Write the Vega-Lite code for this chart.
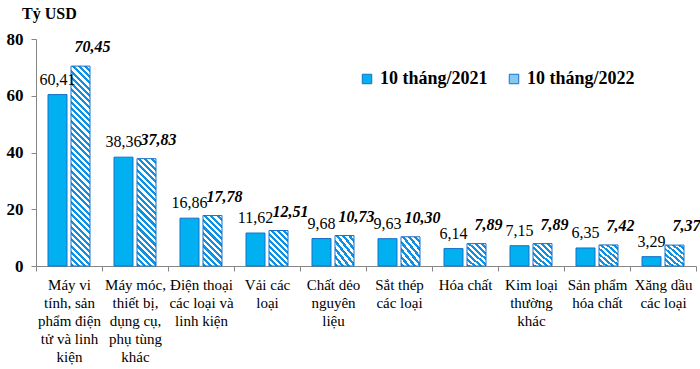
{
  "$schema": "https://vega.github.io/schema/vega-lite/v6.json",
  "width": 660,
  "height": 227,
  "autosize": {"type": "none"},
  "padding": {"left": 36, "top": 39, "right": 4, "bottom": 103},
  "config": {
    "view": {"stroke": null},
    "font": "Liberation Serif",
    "locale": {"number": {"decimal": ",", "thousands": ".", "grouping": [3], "currency": ["", "đ"]}}
  },
  "title": {"text": "Tỷ USD", "anchor": "start", "frame": "group", "dx": -14, "offset": 8, "fontSize": 16, "fontWeight": "bold", "font": "Liberation Serif", "color": "#000000"},
  "data": {"values": [
    {"cat": "Máy vi\ntính, sản\nphẩm điện\ntử và linh\nkiện", "series": "10 tháng/2021", "value": 60.41},
    {"cat": "Máy vi\ntính, sản\nphẩm điện\ntử và linh\nkiện", "series": "10 tháng/2022", "value": 70.45},
    {"cat": "Máy móc,\nthiết bị,\ndụng cụ,\nphụ tùng\nkhác", "series": "10 tháng/2021", "value": 38.36},
    {"cat": "Máy móc,\nthiết bị,\ndụng cụ,\nphụ tùng\nkhác", "series": "10 tháng/2022", "value": 37.83},
    {"cat": "Điện thoại\ncác loại và\nlinh kiện", "series": "10 tháng/2021", "value": 16.86},
    {"cat": "Điện thoại\ncác loại và\nlinh kiện", "series": "10 tháng/2022", "value": 17.78},
    {"cat": "Vải các\nloại", "series": "10 tháng/2021", "value": 11.62},
    {"cat": "Vải các\nloại", "series": "10 tháng/2022", "value": 12.51},
    {"cat": "Chất dẻo\nnguyên\nliệu", "series": "10 tháng/2021", "value": 9.68},
    {"cat": "Chất dẻo\nnguyên\nliệu", "series": "10 tháng/2022", "value": 10.73},
    {"cat": "Sắt thép\ncác loại", "series": "10 tháng/2021", "value": 9.63},
    {"cat": "Sắt thép\ncác loại", "series": "10 tháng/2022", "value": 10.30},
    {"cat": "Hóa chất", "series": "10 tháng/2021", "value": 6.14},
    {"cat": "Hóa chất", "series": "10 tháng/2022", "value": 7.89},
    {"cat": "Kim loại\nthường\nkhác", "series": "10 tháng/2021", "value": 7.15},
    {"cat": "Kim loại\nthường\nkhác", "series": "10 tháng/2022", "value": 7.89},
    {"cat": "Sản phẩm\nhóa chất", "series": "10 tháng/2021", "value": 6.35},
    {"cat": "Sản phẩm\nhóa chất", "series": "10 tháng/2022", "value": 7.42},
    {"cat": "Xăng dầu\ncác loại", "series": "10 tháng/2021", "value": 3.29},
    {"cat": "Xăng dầu\ncác loại", "series": "10 tháng/2022", "value": 7.37}
  ]},
  "encoding": {
    "x": {
      "field": "cat", "type": "nominal", "sort": null,
      "scale": {"paddingInner": 0, "paddingOuter": 0},
      "axis": {
        "title": null, "labelAngle": 0, "labelExpr": "datum.value ? split(datum.value, '\\n') : ''",
        "tickBand": "extent", "tickSize": 5, "domainColor": "#868686", "tickColor": "#868686",
        "labelFontSize": 15, "labelLineHeight": 18, "labelColor": "#000000", "labelPadding": 6,
        "labelFont": "Liberation Serif", "labelLimit": 0, "labelBaseline": "top"
      }
    },
    "xOffset": {"field": "series", "type": "nominal", "scale": {"domain": ["10 tháng/2021", "10 tháng/2022"], "paddingInner": 0.174, "paddingOuter": 0.522}},
    "y": {
      "field": "value", "type": "quantitative",
      "scale": {"domain": [0, 80]},
      "axis": {
        "title": null, "values": [0, 20, 40, 60, 80], "grid": false,
        "domainColor": "#868686", "tickColor": "#868686", "tickSize": 5,
        "labelFontSize": 17, "labelFontWeight": "bold", "labelColor": "#000000",
        "labelPadding": 8, "labelFont": "Liberation Serif"
      }
    }
  },
  "layer": [
    {
      "transform": [{"filter": "datum.series == '10 tháng/2021'"}],
      "mark": {"type": "bar", "stroke": "#1670c8", "strokeWidth": 1},
      "encoding": {
        "color": {
          "field": "series", "type": "nominal",
          "scale": {"domain": ["10 tháng/2021", "10 tháng/2022"], "range": ["#00b0f0", "#86c8f2"]},
          "legend": {
            "title": null, "orient": "none", "legendX": 322, "legendY": 31,
            "direction": "horizontal", "symbolType": "square", "symbolSize": 90,
            "labelFontSize": 18, "labelFontWeight": "bold", "labelFont": "Liberation Serif",
            "labelColor": "#000000", "columnPadding": 17, "labelOffset": 4,
            "symbolStrokeColor": "#1670c8", "symbolStrokeWidth": 1, "labelLimit": 0
          }
        }
      }
    },
    {
      "transform": [{"filter": "datum.series == '10 tháng/2022'"}],
      "mark": {"type": "bar", "stroke": "#1670c8", "strokeWidth": 1},
      "encoding": {
        "fill": {
          "condition": [
            {"test": "indexof(datum.cat, 'Máy vi') === 0", "value": {"gradient": "linear", "x1": 0, "y1": 1, "x2": 0.1031, "y2": -0.0848, "stops": [
              {"offset":0,"color":"#1090e0"},{"offset":0.0143,"color":"#1090e0"},{"offset":0.0143,"color":"#fff"},{"offset":0.0286,"color":"#fff"},
              {"offset":0.0286,"color":"#1090e0"},{"offset":0.0429,"color":"#1090e0"},{"offset":0.0429,"color":"#fff"},{"offset":0.0571,"color":"#fff"},
              {"offset":0.0571,"color":"#1090e0"},{"offset":0.0714,"color":"#1090e0"},{"offset":0.0714,"color":"#fff"},{"offset":0.0857,"color":"#fff"},
              {"offset":0.0857,"color":"#1090e0"},{"offset":0.1,"color":"#1090e0"},{"offset":0.1,"color":"#fff"},{"offset":0.1143,"color":"#fff"},
              {"offset":0.1143,"color":"#1090e0"},{"offset":0.1286,"color":"#1090e0"},{"offset":0.1286,"color":"#fff"},{"offset":0.1429,"color":"#fff"},
              {"offset":0.1429,"color":"#1090e0"},{"offset":0.1571,"color":"#1090e0"},{"offset":0.1571,"color":"#fff"},{"offset":0.1714,"color":"#fff"},
              {"offset":0.1714,"color":"#1090e0"},{"offset":0.1857,"color":"#1090e0"},{"offset":0.1857,"color":"#fff"},{"offset":0.2,"color":"#fff"},
              {"offset":0.2,"color":"#1090e0"},{"offset":0.2143,"color":"#1090e0"},{"offset":0.2143,"color":"#fff"},{"offset":0.2286,"color":"#fff"},
              {"offset":0.2286,"color":"#1090e0"},{"offset":0.2429,"color":"#1090e0"},{"offset":0.2429,"color":"#fff"},{"offset":0.2571,"color":"#fff"},
              {"offset":0.2571,"color":"#1090e0"},{"offset":0.2714,"color":"#1090e0"},{"offset":0.2714,"color":"#fff"},{"offset":0.2857,"color":"#fff"},
              {"offset":0.2857,"color":"#1090e0"},{"offset":0.3,"color":"#1090e0"},{"offset":0.3,"color":"#fff"},{"offset":0.3143,"color":"#fff"},
              {"offset":0.3143,"color":"#1090e0"},{"offset":0.3286,"color":"#1090e0"},{"offset":0.3286,"color":"#fff"},{"offset":0.3429,"color":"#fff"},
              {"offset":0.3429,"color":"#1090e0"},{"offset":0.3571,"color":"#1090e0"},{"offset":0.3571,"color":"#fff"},{"offset":0.3714,"color":"#fff"},
              {"offset":0.3714,"color":"#1090e0"},{"offset":0.3857,"color":"#1090e0"},{"offset":0.3857,"color":"#fff"},{"offset":0.4,"color":"#fff"},
              {"offset":0.4,"color":"#1090e0"},{"offset":0.4143,"color":"#1090e0"},{"offset":0.4143,"color":"#fff"},{"offset":0.4286,"color":"#fff"},
              {"offset":0.4286,"color":"#1090e0"},{"offset":0.4429,"color":"#1090e0"},{"offset":0.4429,"color":"#fff"},{"offset":0.4571,"color":"#fff"},
              {"offset":0.4571,"color":"#1090e0"},{"offset":0.4714,"color":"#1090e0"},{"offset":0.4714,"color":"#fff"},{"offset":0.4857,"color":"#fff"},
              {"offset":0.4857,"color":"#1090e0"},{"offset":0.5,"color":"#1090e0"},{"offset":0.5,"color":"#fff"},{"offset":0.5143,"color":"#fff"},
              {"offset":0.5143,"color":"#1090e0"},{"offset":0.5286,"color":"#1090e0"},{"offset":0.5286,"color":"#fff"},{"offset":0.5429,"color":"#fff"},
              {"offset":0.5429,"color":"#1090e0"},{"offset":0.5571,"color":"#1090e0"},{"offset":0.5571,"color":"#fff"},{"offset":0.5714,"color":"#fff"},
              {"offset":0.5714,"color":"#1090e0"},{"offset":0.5857,"color":"#1090e0"},{"offset":0.5857,"color":"#fff"},{"offset":0.6,"color":"#fff"},
              {"offset":0.6,"color":"#1090e0"},{"offset":0.6143,"color":"#1090e0"},{"offset":0.6143,"color":"#fff"},{"offset":0.6286,"color":"#fff"},
              {"offset":0.6286,"color":"#1090e0"},{"offset":0.6429,"color":"#1090e0"},{"offset":0.6429,"color":"#fff"},{"offset":0.6571,"color":"#fff"},
              {"offset":0.6571,"color":"#1090e0"},{"offset":0.6714,"color":"#1090e0"},{"offset":0.6714,"color":"#fff"},{"offset":0.6857,"color":"#fff"},
              {"offset":0.6857,"color":"#1090e0"},{"offset":0.7,"color":"#1090e0"},{"offset":0.7,"color":"#fff"},{"offset":0.7143,"color":"#fff"},
              {"offset":0.7143,"color":"#1090e0"},{"offset":0.7286,"color":"#1090e0"},{"offset":0.7286,"color":"#fff"},{"offset":0.7429,"color":"#fff"},
              {"offset":0.7429,"color":"#1090e0"},{"offset":0.7571,"color":"#1090e0"},{"offset":0.7571,"color":"#fff"},{"offset":0.7714,"color":"#fff"},
              {"offset":0.7714,"color":"#1090e0"},{"offset":0.7857,"color":"#1090e0"},{"offset":0.7857,"color":"#fff"},{"offset":0.8,"color":"#fff"},
              {"offset":0.8,"color":"#1090e0"},{"offset":0.8143,"color":"#1090e0"},{"offset":0.8143,"color":"#fff"},{"offset":0.8286,"color":"#fff"},
              {"offset":0.8286,"color":"#1090e0"},{"offset":0.8429,"color":"#1090e0"},{"offset":0.8429,"color":"#fff"},{"offset":0.8571,"color":"#fff"},
              {"offset":0.8571,"color":"#1090e0"},{"offset":0.8714,"color":"#1090e0"},{"offset":0.8714,"color":"#fff"},{"offset":0.8857,"color":"#fff"},
              {"offset":0.8857,"color":"#1090e0"},{"offset":0.9,"color":"#1090e0"},{"offset":0.9,"color":"#fff"},{"offset":0.9143,"color":"#fff"},
              {"offset":0.9143,"color":"#1090e0"},{"offset":0.9286,"color":"#1090e0"},{"offset":0.9286,"color":"#fff"},{"offset":0.9429,"color":"#fff"},
              {"offset":0.9429,"color":"#1090e0"},{"offset":0.9571,"color":"#1090e0"},{"offset":0.9571,"color":"#fff"},{"offset":0.9714,"color":"#fff"},
              {"offset":0.9714,"color":"#1090e0"},{"offset":0.9857,"color":"#1090e0"},{"offset":0.9857,"color":"#fff"},{"offset":1,"color":"#fff"}
            ]}},
            {"test": "indexof(datum.cat, 'Máy móc') === 0", "value": {"gradient": "linear", "x1": 0, "y1": 1, "x2": 0.2021, "y2": -0.1414, "stops": [
              {"offset":0,"color":"#1090e0"},{"offset":0.025,"color":"#1090e0"},{"offset":0.025,"color":"#fff"},{"offset":0.05,"color":"#fff"},
              {"offset":0.05,"color":"#1090e0"},{"offset":0.075,"color":"#1090e0"},{"offset":0.075,"color":"#fff"},{"offset":0.1,"color":"#fff"},
              {"offset":0.1,"color":"#1090e0"},{"offset":0.125,"color":"#1090e0"},{"offset":0.125,"color":"#fff"},{"offset":0.15,"color":"#fff"},
              {"offset":0.15,"color":"#1090e0"},{"offset":0.175,"color":"#1090e0"},{"offset":0.175,"color":"#fff"},{"offset":0.2,"color":"#fff"},
              {"offset":0.2,"color":"#1090e0"},{"offset":0.225,"color":"#1090e0"},{"offset":0.225,"color":"#fff"},{"offset":0.25,"color":"#fff"},
              {"offset":0.25,"color":"#1090e0"},{"offset":0.275,"color":"#1090e0"},{"offset":0.275,"color":"#fff"},{"offset":0.3,"color":"#fff"},
              {"offset":0.3,"color":"#1090e0"},{"offset":0.325,"color":"#1090e0"},{"offset":0.325,"color":"#fff"},{"offset":0.35,"color":"#fff"},
              {"offset":0.35,"color":"#1090e0"},{"offset":0.375,"color":"#1090e0"},{"offset":0.375,"color":"#fff"},{"offset":0.4,"color":"#fff"},
              {"offset":0.4,"color":"#1090e0"},{"offset":0.425,"color":"#1090e0"},{"offset":0.425,"color":"#fff"},{"offset":0.45,"color":"#fff"},
              {"offset":0.45,"color":"#1090e0"},{"offset":0.475,"color":"#1090e0"},{"offset":0.475,"color":"#fff"},{"offset":0.5,"color":"#fff"},
              {"offset":0.5,"color":"#1090e0"},{"offset":0.525,"color":"#1090e0"},{"offset":0.525,"color":"#fff"},{"offset":0.55,"color":"#fff"},
              {"offset":0.55,"color":"#1090e0"},{"offset":0.575,"color":"#1090e0"},{"offset":0.575,"color":"#fff"},{"offset":0.6,"color":"#fff"},
              {"offset":0.6,"color":"#1090e0"},{"offset":0.625,"color":"#1090e0"},{"offset":0.625,"color":"#fff"},{"offset":0.65,"color":"#fff"},
              {"offset":0.65,"color":"#1090e0"},{"offset":0.675,"color":"#1090e0"},{"offset":0.675,"color":"#fff"},{"offset":0.7,"color":"#fff"},
              {"offset":0.7,"color":"#1090e0"},{"offset":0.725,"color":"#1090e0"},{"offset":0.725,"color":"#fff"},{"offset":0.75,"color":"#fff"},
              {"offset":0.75,"color":"#1090e0"},{"offset":0.775,"color":"#1090e0"},{"offset":0.775,"color":"#fff"},{"offset":0.8,"color":"#fff"},
              {"offset":0.8,"color":"#1090e0"},{"offset":0.825,"color":"#1090e0"},{"offset":0.825,"color":"#fff"},{"offset":0.85,"color":"#fff"},
              {"offset":0.85,"color":"#1090e0"},{"offset":0.875,"color":"#1090e0"},{"offset":0.875,"color":"#fff"},{"offset":0.9,"color":"#fff"},
              {"offset":0.9,"color":"#1090e0"},{"offset":0.925,"color":"#1090e0"},{"offset":0.925,"color":"#fff"},{"offset":0.95,"color":"#fff"},
              {"offset":0.95,"color":"#1090e0"},{"offset":0.975,"color":"#1090e0"},{"offset":0.975,"color":"#fff"},{"offset":1,"color":"#fff"}
            ]}},
            {"test": "indexof(datum.cat, 'Điện thoại') === 0", "value": {"gradient": "linear", "x1": 0, "y1": 1, "x2": 0.4536, "y2": -0.2057, "stops": [
              {"offset":0,"color":"#1090e0"},{"offset":0.0455,"color":"#1090e0"},{"offset":0.0455,"color":"#fff"},{"offset":0.0909,"color":"#fff"},
              {"offset":0.0909,"color":"#1090e0"},{"offset":0.1364,"color":"#1090e0"},{"offset":0.1364,"color":"#fff"},{"offset":0.1818,"color":"#fff"},
              {"offset":0.1818,"color":"#1090e0"},{"offset":0.2273,"color":"#1090e0"},{"offset":0.2273,"color":"#fff"},{"offset":0.2727,"color":"#fff"},
              {"offset":0.2727,"color":"#1090e0"},{"offset":0.3182,"color":"#1090e0"},{"offset":0.3182,"color":"#fff"},{"offset":0.3636,"color":"#fff"},
              {"offset":0.3636,"color":"#1090e0"},{"offset":0.4091,"color":"#1090e0"},{"offset":0.4091,"color":"#fff"},{"offset":0.4545,"color":"#fff"},
              {"offset":0.4545,"color":"#1090e0"},{"offset":0.5,"color":"#1090e0"},{"offset":0.5,"color":"#fff"},{"offset":0.5455,"color":"#fff"},
              {"offset":0.5455,"color":"#1090e0"},{"offset":0.5909,"color":"#1090e0"},{"offset":0.5909,"color":"#fff"},{"offset":0.6364,"color":"#fff"},
              {"offset":0.6364,"color":"#1090e0"},{"offset":0.6818,"color":"#1090e0"},{"offset":0.6818,"color":"#fff"},{"offset":0.7273,"color":"#fff"},
              {"offset":0.7273,"color":"#1090e0"},{"offset":0.7727,"color":"#1090e0"},{"offset":0.7727,"color":"#fff"},{"offset":0.8182,"color":"#fff"},
              {"offset":0.8182,"color":"#1090e0"},{"offset":0.8636,"color":"#1090e0"},{"offset":0.8636,"color":"#fff"},{"offset":0.9091,"color":"#fff"},
              {"offset":0.9091,"color":"#1090e0"},{"offset":0.9545,"color":"#1090e0"},{"offset":0.9545,"color":"#fff"},{"offset":1,"color":"#fff"}
            ]}},
            {"test": "indexof(datum.cat, 'Vải') === 0", "value": {"gradient": "linear", "x1": 0, "y1": 1, "x2": 0.6388, "y2": -0.1933, "stops": [
              {"offset":0,"color":"#1090e0"},{"offset":0.0556,"color":"#1090e0"},{"offset":0.0556,"color":"#fff"},{"offset":0.1111,"color":"#fff"},
              {"offset":0.1111,"color":"#1090e0"},{"offset":0.1667,"color":"#1090e0"},{"offset":0.1667,"color":"#fff"},{"offset":0.2222,"color":"#fff"},
              {"offset":0.2222,"color":"#1090e0"},{"offset":0.2778,"color":"#1090e0"},{"offset":0.2778,"color":"#fff"},{"offset":0.3333,"color":"#fff"},
              {"offset":0.3333,"color":"#1090e0"},{"offset":0.3889,"color":"#1090e0"},{"offset":0.3889,"color":"#fff"},{"offset":0.4444,"color":"#fff"},
              {"offset":0.4444,"color":"#1090e0"},{"offset":0.5,"color":"#1090e0"},{"offset":0.5,"color":"#fff"},{"offset":0.5556,"color":"#fff"},
              {"offset":0.5556,"color":"#1090e0"},{"offset":0.6111,"color":"#1090e0"},{"offset":0.6111,"color":"#fff"},{"offset":0.6667,"color":"#fff"},
              {"offset":0.6667,"color":"#1090e0"},{"offset":0.7222,"color":"#1090e0"},{"offset":0.7222,"color":"#fff"},{"offset":0.7778,"color":"#fff"},
              {"offset":0.7778,"color":"#1090e0"},{"offset":0.8333,"color":"#1090e0"},{"offset":0.8333,"color":"#fff"},{"offset":0.8889,"color":"#fff"},
              {"offset":0.8889,"color":"#1090e0"},{"offset":0.9444,"color":"#1090e0"},{"offset":0.9444,"color":"#fff"},{"offset":1,"color":"#fff"}
            ]}}
          ],
          "value": {"gradient": "linear", "x1": 0, "y1": 1, "x2": 0.8622, "y2": -0.1071, "stops": [
            {"offset":0,"color":"#1090e0"},{"offset":0.0714,"color":"#1090e0"},{"offset":0.0714,"color":"#fff"},{"offset":0.1429,"color":"#fff"},
            {"offset":0.1429,"color":"#1090e0"},{"offset":0.2143,"color":"#1090e0"},{"offset":0.2143,"color":"#fff"},{"offset":0.2857,"color":"#fff"},
            {"offset":0.2857,"color":"#1090e0"},{"offset":0.3571,"color":"#1090e0"},{"offset":0.3571,"color":"#fff"},{"offset":0.4286,"color":"#fff"},
            {"offset":0.4286,"color":"#1090e0"},{"offset":0.5,"color":"#1090e0"},{"offset":0.5,"color":"#fff"},{"offset":0.5714,"color":"#fff"},
            {"offset":0.5714,"color":"#1090e0"},{"offset":0.6429,"color":"#1090e0"},{"offset":0.6429,"color":"#fff"},{"offset":0.7143,"color":"#fff"},
            {"offset":0.7143,"color":"#1090e0"},{"offset":0.7857,"color":"#1090e0"},{"offset":0.7857,"color":"#fff"},{"offset":0.8571,"color":"#fff"},
            {"offset":0.8571,"color":"#1090e0"},{"offset":0.9286,"color":"#1090e0"},{"offset":0.9286,"color":"#fff"},{"offset":1,"color":"#fff"}
          ]}
        }
      }
    },
    {
      "transform": [{"filter": "datum.series == '10 tháng/2021'"}],
      "mark": {"type": "text", "baseline": "alphabetic", "dy": -10, "fontSize": 16, "font": "Liberation Serif", "color": "#000000"},
      "encoding": {"text": {"field": "value", "type": "quantitative", "format": ".2f"}}
    },
    {
      "transform": [{"filter": "datum.series == '10 tháng/2022'"}],
      "mark": {"type": "text", "baseline": "alphabetic", "dx": 12, "dy": -14, "fontSize": 16, "fontWeight": "bold", "fontStyle": "italic", "font": "Liberation Serif", "color": "#000000"},
      "encoding": {"text": {"field": "value", "type": "quantitative", "format": ".2f"}}
    }
  ]
}
